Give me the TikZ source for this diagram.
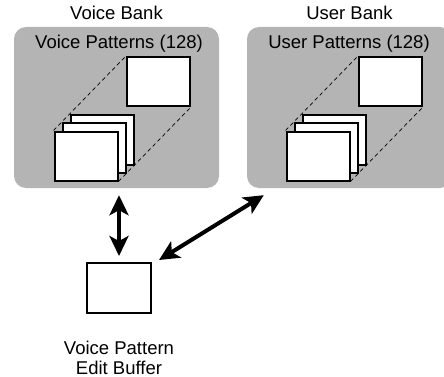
\documentclass[tikz,border=0pt]{standalone}
\usepackage{fontspec}
\setmainfont{Liberation Sans}
\usetikzlibrary{positioning,arrows.meta}
\definecolor{bankgray}{RGB}{180,180,180}

\begin{document}
\begin{tikzpicture}[
  x=1pt, y=-1pt,
  bank/.style={fill=bankgray, rounded corners=12pt, minimum width=205pt, minimum height=161pt, inner sep=0pt},
  pat/.style={draw, line width=2pt, fill=white, minimum width=63pt, minimum height=49pt, inner sep=0pt},
  lbl/.style={font=\fontsize{18.5}{20}\selectfont, inner sep=0pt, align=center},
  guide/.style={dash pattern=on 4pt off 3pt, line width=0.7pt},
  dbl/.style={{Stealth[length=20pt,width=19pt,inset=5pt]}-{Stealth[length=20pt,width=19pt,inset=5pt]}, line width=4pt}
]
  \useasboundingbox (0,0) rectangle (444,377);
  \clip (0,0) rectangle (444,377);

  \node[bank] (vbank) at (116.5,107.5) {};
  \node[bank] (ubank) at (349.5,107.5) {};
  \node[lbl, above=7pt of vbank] (vtitle) {Voice Bank};
  \node[lbl, above=7pt of ubank] (utitle) {User Bank};
  \node[lbl, anchor=base] (vhead) at (119,49) {Voice Patterns (128)};
  \node[lbl, anchor=base] (uhead) at (349,49) {User Patterns (128)};

  \foreach \b/\dx in {v/0, u/232} {
    \node[pat] (\b big) at (158.5+\dx,81.5) {};
    \node[pat] (\b back) at (102+\dx,140) {};
    \node[pat] (\b mid) at (94+\dx,148) {};
    \node[pat] (\b front) at (86+\dx,156) {};
    \draw[guide] (\b front.north west) -- (\b big.north west);
    \draw[guide] (\b front.south east) -- (\b big.south east);
  }

  \node[pat, minimum width=64pt, minimum height=50pt] (buffer) at (119,288) {};
  \node[lbl, below=27pt of buffer] (bufname) {Voice Pattern\\Edit Buffer};

  \draw[dbl, shorten <=6pt, shorten >=7pt] (buffer.north) -- (buffer.north |- vbank.south);
  \draw[dbl] ([shift={(7,-2)}]buffer.north east) -- ([shift={(17,7)}]ubank.south west);
\end{tikzpicture}
\end{document}
